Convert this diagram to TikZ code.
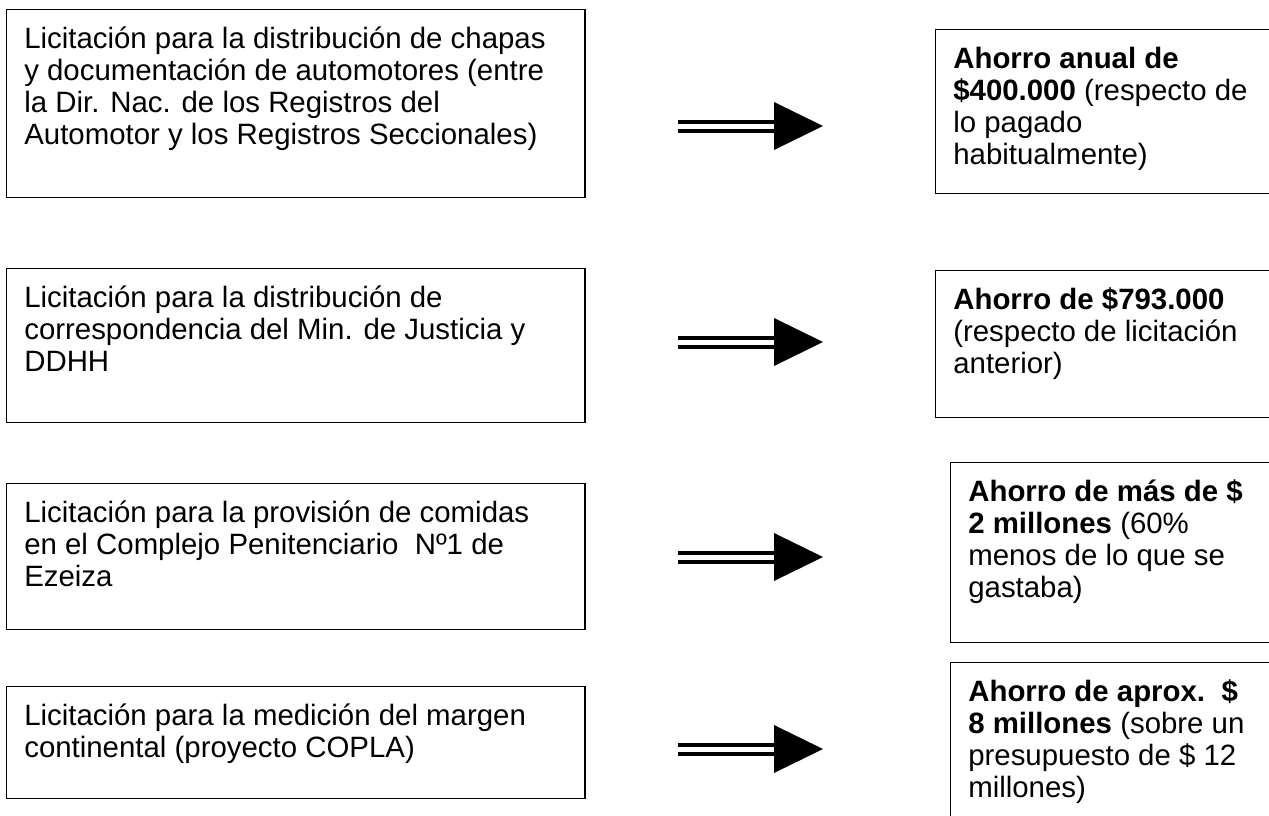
\documentclass[tikz,border=0pt]{standalone}
\usepackage{fontspec}
\setmainfont{Liberation Sans}
\newcommand{\boxText}[3]{\parbox[t][#2][t]{#1}{\lineskiplimit=-50pt\lineskip=0pt\raggedright\rule{0pt}{31pt}#3}}
\newcommand{\leftWidth}[0]{543pt}
\newcommand{\rightWidth}[0]{325pt}

\begin{document}
\begin{tikzpicture}[x=1pt, y=-1pt]
  \tikzset{every node/.style={font=\fontsize{29.4}{32}\selectfont},
    licitacion/.style={draw, line width=1.4pt, anchor=north west,
      inner xsep=17.6pt, inner ysep=8pt},
    ahorro/.style={licitacion},
    dblshaft/.style={draw, double, double distance=5pt, line width=4pt}}
  \path[use as bounding box] (0,0) rectangle (1269,816);
  \clip (0,0) rectangle (1269,816);
  \node[licitacion] (lic1) at (6,9) {\boxText{\leftWidth}{172pt}{Licitación para la distribución de chapas\\
    y documentación de automotores (entre\\
    la Dir. Nac. de los Registros del\\
    Automotor y los Registros Seccionales)}};
  \node[licitacion] (lic2) at (6,268) {\boxText{\leftWidth}{138pt}{Licitación para la distribución de\\
    correspondencia del Min. de Justicia y\\
    DDHH}};
  \node[licitacion] (lic3) at (6,483) {\boxText{\leftWidth}{130pt}{Licitación para la provisión de comidas\\
    en el Complejo Penitenciario\ \ Nº1 de\\
    Ezeiza}};
  \node[licitacion] (lic4) at (6,686) {\boxText{\leftWidth}{96pt}{Licitación para la medición del margen\\
    continental (proyecto COPLA)}};
  \node[ahorro] (aho1) at (935,29) {\boxText{\rightWidth}{148pt}{\textbf{Ahorro anual de}\\
    \textbf{\$400.000} (respecto de\\
    lo pagado\\
    habitualmente)}};
  \node[ahorro] (aho2) at (935,270) {\boxText{\rightWidth}{131pt}{\textbf{Ahorro de \$793.000}\\
    (respecto de licitación\\
    anterior)}};
  \node[ahorro] (aho3) at (950,462) {\boxText{\rightWidth}{164pt}{\textbf{Ahorro de más de \$}\\
    \textbf{2 millones} (60\%\\
    menos de lo que se\\
    gastaba)}};
  \node[ahorro] (aho4) at (950,662) {\boxText{\rightWidth}{170pt}{\textbf{Ahorro de aprox.\ \ \$}\\
    \textbf{8 millones} (sobre un\\
    presupuesto de \$ 12\\
    millones)}};
  \coordinate (arr1s) at (678,126);
  \coordinate (arr1e) at (774,126);
  \coordinate (arr2s) at (678,342);
  \coordinate (arr2e) at (774,342);
  \coordinate (arr3s) at (678,557);
  \coordinate (arr3e) at (774,557);
  \coordinate (arr4s) at (678,749);
  \coordinate (arr4e) at (774,749);
  \draw[dblshaft] (arr1s) -- (arr1e);
  \fill (arr1e) ++(0,-24) -- ++(49,24) -- ++(-49,24) -- cycle;
  \draw[dblshaft] (arr2s) -- (arr2e);
  \fill (arr2e) ++(0,-24) -- ++(49,24) -- ++(-49,24) -- cycle;
  \draw[dblshaft] (arr3s) -- (arr3e);
  \fill (arr3e) ++(0,-24) -- ++(49,24) -- ++(-49,24) -- cycle;
  \draw[dblshaft] (arr4s) -- (arr4e);
  \fill (arr4e) ++(0,-24) -- ++(49,24) -- ++(-49,24) -- cycle;
\end{tikzpicture}
\end{document}
